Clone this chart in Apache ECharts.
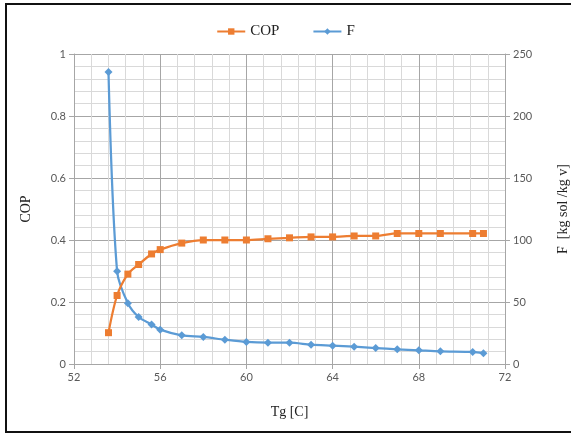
<!DOCTYPE html>
<html>
<head>
<meta charset="utf-8">
<script src="https://cdn.jsdelivr.net/npm/echarts@6/dist/echarts.min.js"></script>
<style>
html,body{margin:0;padding:0;background:#fff;overflow:hidden;width:571px;height:436px;}
#frame{position:absolute;left:5px;top:3px;width:566px;height:430px;border:2px solid #111;border-right:none;box-sizing:border-box;}
#chart{position:absolute;left:0;top:0;width:571px;height:436px;}
</style>
</head>
<body>
<div id="frame"></div>
<div id="chart"></div>
<script>
var tg = [53.6, 54, 54.5, 55, 55.6, 56, 57, 58, 59, 60, 61, 62, 63, 64, 65, 66, 67, 68, 69, 70.5, 71];
var cop = [0.101, 0.221, 0.29, 0.321, 0.355, 0.369, 0.39, 0.40, 0.40, 0.40, 0.404, 0.407, 0.41, 0.41, 0.413, 0.413, 0.421, 0.421, 0.421, 0.421, 0.421];
var fVals = [235.5, 74.8, 49.0, 37.9, 31.8, 27.7, 23.1, 21.8, 19.6, 17.8, 17.2, 17.2, 15.6, 14.8, 14.0, 12.9, 11.8, 11.0, 10.2, 9.7, 8.6];

function pairs(xs, ys){ return xs.map(function(x,i){ return [x, ys[i]]; }); }

var chart = echarts.init(document.getElementById('chart'), null, {renderer:'canvas', width:571, height:436});
var labelStyle = {color:'#595959', fontSize:11, fontFamily:'Lato, "Open Sans", sans-serif'};
var nameStyle = {color:'#222', fontSize:14, fontFamily:'"Liberation Serif", serif'};
chart.setOption({
  animation:false,
  backgroundColor:'transparent',
  legend:{
    top:19, left:'center',
    itemWidth:28, itemHeight:8, itemGap:33,
    textStyle:{color:'#222', fontSize:15, fontFamily:'"Liberation Serif", serif'},
    data:['COP','F']
  },
  grid:{left:74, right:66, top:54, bottom:72, containLabel:false, outerBoundsMode:'none'},
  xAxis:{
    type:'value', min:52, max:72, interval:4,
    name:'Tg [C]', nameLocation:'middle', nameGap:41, nameTextStyle:nameStyle,
    axisLine:{show:true, onZero:false, lineStyle:{color:'#a6a6a6'}},
    axisTick:{show:true, length:5, lineStyle:{color:'#a6a6a6'}},
    axisLabel:Object.assign({margin:8}, labelStyle),
    splitLine:{show:true, lineStyle:{color:'#a6a6a6', width:1}},
    minorTick:{show:false, splitNumber:5},
    minorSplitLine:{show:true, lineStyle:{color:'#d9d9d9', width:1}}
  },
  yAxis:[{
    type:'value', min:0, max:1, interval:0.2,
    name:'COP', nameLocation:'middle', nameGap:41, nameRotate:90, nameTextStyle:nameStyle,
    axisLine:{show:true, lineStyle:{color:'#a6a6a6'}},
    axisTick:{show:true, length:5, lineStyle:{color:'#a6a6a6'}},
    axisLabel:Object.assign({margin:8}, labelStyle),
    splitLine:{show:true, lineStyle:{color:'#a6a6a6', width:1}},
    minorTick:{show:false, splitNumber:5},
    minorSplitLine:{show:true, lineStyle:{color:'#d9d9d9', width:1}}
  },{
    type:'value', min:0, max:250, interval:50, position:'right',
    name:'F  [kg sol /kg v]', nameLocation:'middle', nameGap:51, nameRotate:90, nameTextStyle:nameStyle,
    axisLine:{show:true, lineStyle:{color:'#a6a6a6'}},
    axisTick:{show:true, length:5, lineStyle:{color:'#a6a6a6'}},
    axisLabel:Object.assign({margin:8}, labelStyle),
    splitLine:{show:false}
  }],
  series:[{
    name:'COP', type:'line', yAxisIndex:0,
    data:pairs(tg, cop),
    smooth:0.3,
    symbol:'rect', symbolSize:7,
    itemStyle:{color:'#ED7D31'},
    lineStyle:{color:'#ED7D31', width:2.25},
    z:3
  },{
    name:'F', type:'line', yAxisIndex:1,
    data:pairs(tg, fVals),
    smooth:0.3,
    symbol:'diamond', symbolSize:8,
    itemStyle:{color:'#5B9BD5'},
    lineStyle:{color:'#5B9BD5', width:2.25},
    z:2
  }]
});
</script>
</body>
</html>
